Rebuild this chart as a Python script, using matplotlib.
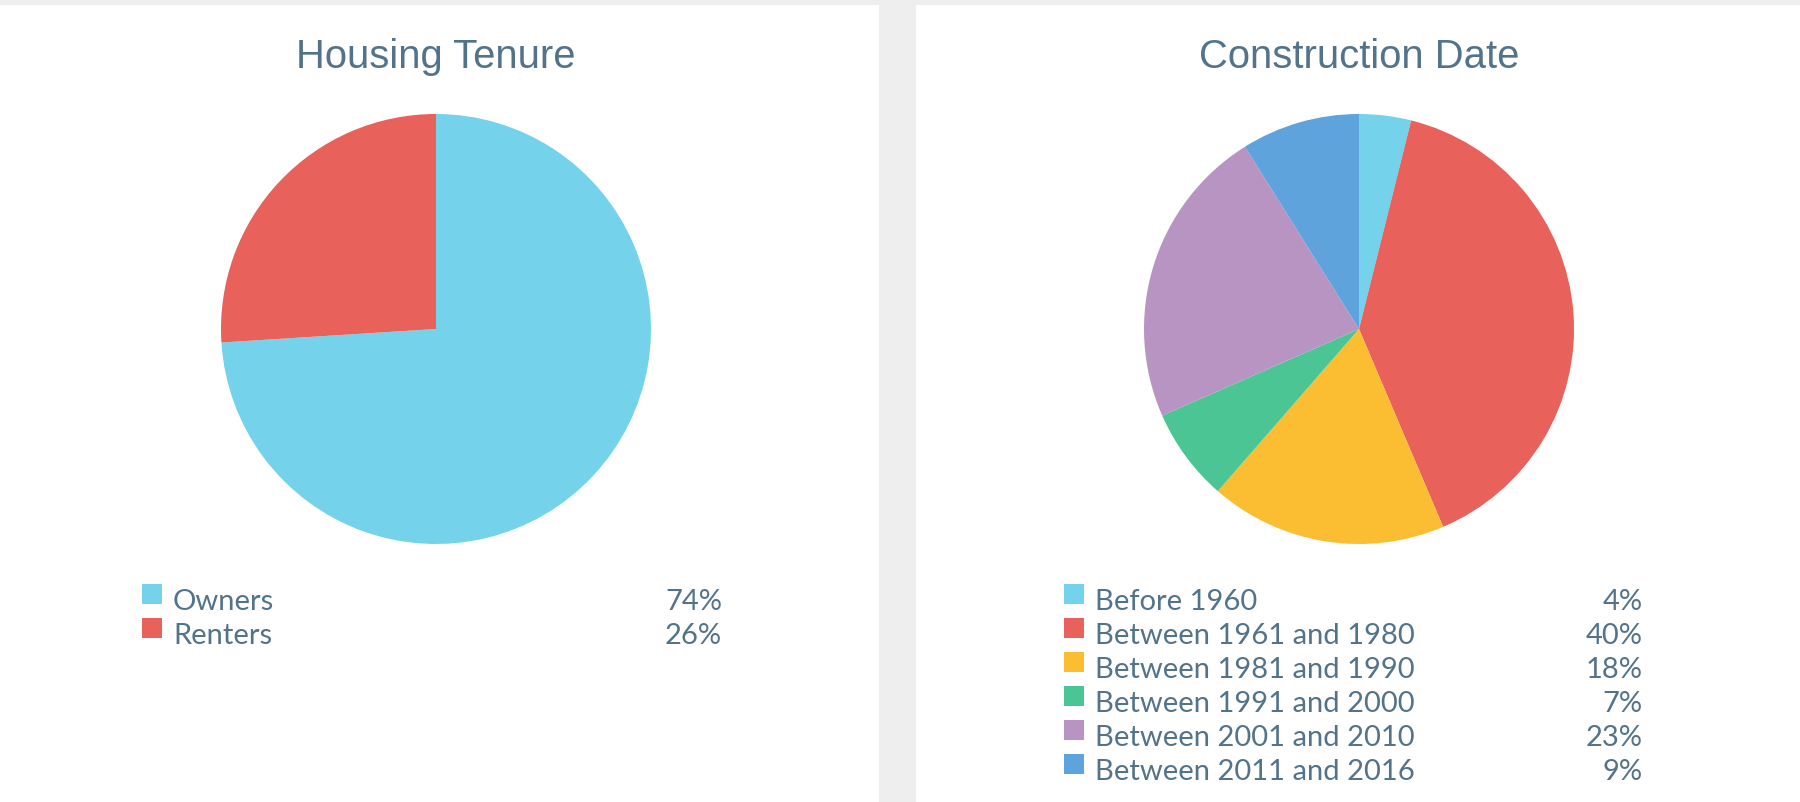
import matplotlib.pyplot as plt
from matplotlib.patches import Rectangle

# data
tenure_labels = ['Owners', 'Renters']
tenure_share = [74, 26]
tenure_colors = ['#74d2eb', '#e8615a']

built_labels = ['Before 1960', 'Between 1961 and 1980', 'Between 1981 and 1990',
                'Between 1991 and 2000', 'Between 2001 and 2010', 'Between 2011 and 2016']
built_share = [3.9, 39.7, 17.8, 7.0, 22.7, 8.9]
built_colors = ['#74d2eb', '#e8615a', '#fbbd32', '#4bc594', '#b894c2', '#5ea3dc']

W, H = 1800, 802
TXT = '#53738a'

fig = plt.figure(figsize=(W / 100, H / 100), dpi=100, facecolor='#eeeeee')


def fx(x):
    return x / W


def fy(y):
    return 1 - y / H


# white panels
fig.add_artist(Rectangle((fx(0), fy(H)), fx(879), 1 - 5 / H, transform=fig.transFigure,
                         facecolor='white', edgecolor='none', zorder=0))
fig.add_artist(Rectangle((fx(916), fy(H)), fx(W - 916), 1 - 5 / H, transform=fig.transFigure,
                         facecolor='white', edgecolor='none', zorder=0))


def panel(cx, title, labels, share, colors, sq_x, pct_right):
    r = 215
    cy = 329
    ax = fig.add_axes([fx(cx - r), fy(cy + r), fx(2 * r), 2 * r / H])
    ax.pie(share, colors=colors, startangle=90, counterclock=False,
           wedgeprops=dict(linewidth=0))
    ax.set_xlim(-1, 1)
    ax.set_ylim(-1, 1)
    ax.axis('off')
    fig.text(fx(cx), fy(68), title, ha='center', va='baseline', fontsize=28.8,
             color=TXT, family='Liberation Sans')
    for i, (lab, v, c) in enumerate(zip(labels, share, colors)):
        top = 584 + 34 * i
        fig.add_artist(Rectangle((fx(sq_x), fy(top + 20)), fx(20), 20 / H,
                                 transform=fig.transFigure, facecolor=c, edgecolor='none'))
        fig.text(fx(sq_x + 31), fy(top + 26), lab, ha='left', va='baseline',
                 fontsize=21, color=TXT, family='Lato')
        fig.text(fx(pct_right), fy(top + 26), '%d%%' % round(v), ha='right', va='baseline',
                 fontsize=21, color=TXT, family='Lato')


panel(436, 'Housing Tenure', tenure_labels, tenure_share, tenure_colors, 142, 722)
panel(1359, 'Construction Date', built_labels, built_share, built_colors, 1064, 1643)

fig.savefig('out.png', dpi=100, facecolor=fig.get_facecolor())
